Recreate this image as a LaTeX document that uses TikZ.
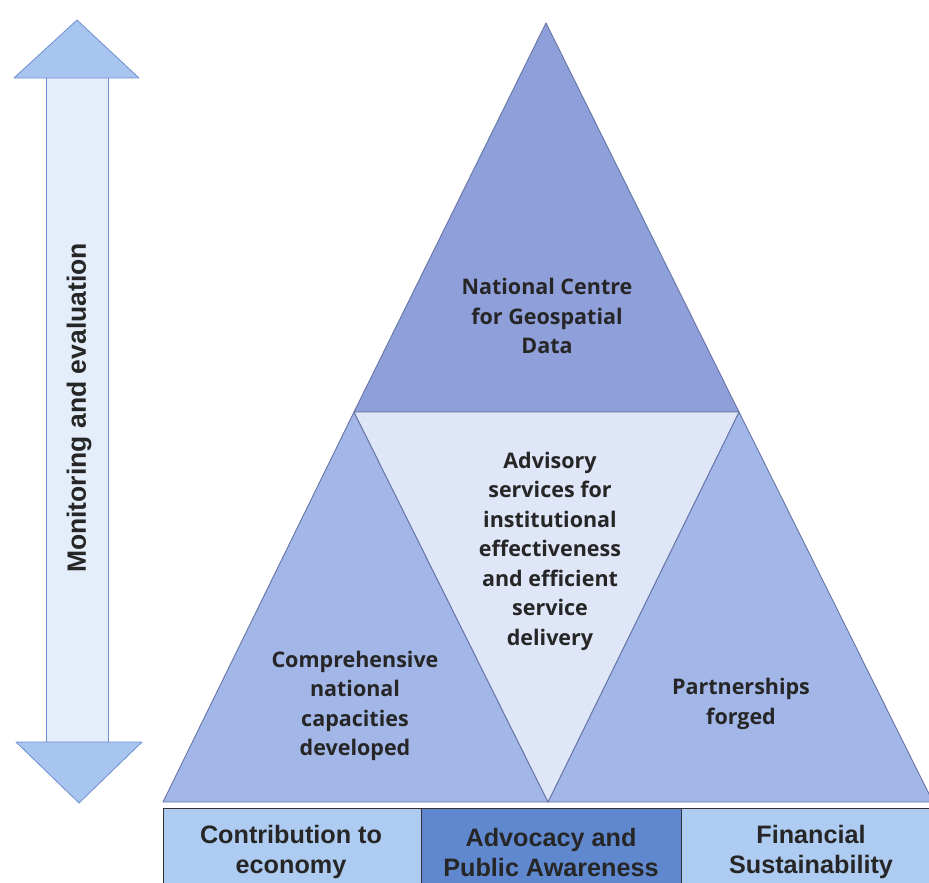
\documentclass[tikz,border=0pt]{standalone}
\usepackage{fontspec}
\setmainfont{Open Sans}
\newfontfamily\arialfont{Liberation Sans}
\definecolor{topfill}{HTML}{8E9FD9}
\definecolor{sidefill}{HTML}{A3B6E8}
\definecolor{midfill}{HTML}{DFE6F7}
\definecolor{triline}{HTML}{6675A8}
\definecolor{boxlight}{HTML}{AECBF1}
\definecolor{boxdark}{HTML}{5F88CF}
\definecolor{txt}{HTML}{262626}
\definecolor{headfill}{HTML}{A8C5F0}
\definecolor{shaftfill}{HTML}{E4EDFA}
\definecolor{arrline}{HTML}{6F8FD0}
\begin{document}
\begin{tikzpicture}[x=1pt,y=-1pt,
  tri/.style={draw=triline, line width=0.9pt, line join=round},
  trilabel/.style={text=txt, align=center, font=\bfseries\fontsize{21.5}{29.5}\selectfont},
  boxlabel/.style={text=txt, align=center, font=\arialfont\bfseries\fontsize{25.2}{30}\selectfont},
  bottombox/.style={draw=black!80, line width=1.4pt, minimum height=90pt, anchor=north west, inner sep=0pt}]
\clip (0,0) rectangle (929,883);
\fill[white] (0,0) rectangle (929,883);
% coordinates of the pyramid
\coordinate (A) at (546,23);
\coordinate (ML) at (354,412);
\coordinate (MR) at (739,412);
\coordinate (MB) at (548,802);
\coordinate (L) at (163,802);
\coordinate (R) at (933,802);
% triangles
\path[tri, fill=topfill] (A) -- (MR) -- (ML) -- cycle;
\path[tri, fill=sidefill] (ML) -- (MB) -- (L) -- cycle;
\path[tri, fill=sidefill] (MR) -- (R) -- (MB) -- cycle;
\path[tri, fill=midfill] (ML) -- (MR) -- (MB) -- cycle;
% labels
\node[trilabel] (ncgd) at (547,316) {National Centre\\for Geospatial\\Data};
\node[trilabel] (adv) at (550,551) {Advisory\\services for\\institutional\\effectiveness\\and efficient\\service\\delivery};
\node[trilabel] (comp) at (355,706) {Comprehensive\\national\\capacities\\developed};
\node[trilabel] (part) at (741,704) {Partnerships\\forged};
% bottom boxes
\node[bottombox, fill=boxlight, minimum width=258pt] (b1) at (163,808) {};
\node[bottombox, fill=boxdark, minimum width=260pt] (b2) at (421,808) {};
\node[bottombox, fill=boxlight, minimum width=270pt] (b3) at (681,808) {};
\node[boxlabel] (t1) at (291,852) {Contribution to\\economy};
\node[boxlabel] (t2) at (551,852) {Advocacy and\\Public Awareness};
\node[boxlabel] (t3) at (811,852) {Financial\\Sustainability};
% double arrow
\path[fill=shaftfill, draw=arrline, line width=0.8pt] (46,76) rectangle (108,744);
\path[fill=headfill, draw=arrline, line width=0.8pt, line join=round] (77,20) -- (139,78) -- (14,78) -- cycle;
\path[fill=headfill, draw=arrline, line width=0.8pt, line join=round] (16,742) -- (142,742) -- (79,803) -- cycle;
\node[rotate=90, text=txt, font=\arialfont\bfseries\fontsize{26.5}{30}\selectfont] (me) at (79,408) {Monitoring and evaluation};
\end{tikzpicture}
\end{document}
